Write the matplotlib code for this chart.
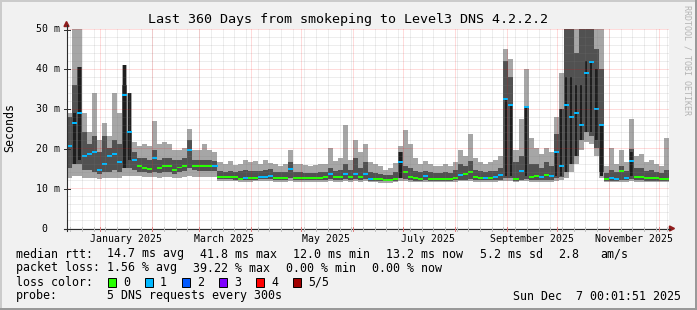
import datetime as dt
import numpy as np
import matplotlib
matplotlib.use("Agg")
import matplotlib.pyplot as plt
from matplotlib.lines import Line2D
from matplotlib.patches import Rectangle, Polygon

# --- data: 3-day steps over the last 360 days (ms) ---
start = dt.datetime(2024, 12, 12, 0, 1, 51)
end = dt.datetime(2025, 12, 7, 0, 1, 51)
step_days = 3

smoke_hi = [29, 50, 50, 29, 24, 34, 22, 26.5, 23, 34,
            29, 41, 34, 21.5, 20.5, 21, 20.5, 27, 21, 21.5,
            21, 19.5, 19.5, 20, 25, 19.5, 19.5, 21, 19.5, 19,
            16.5, 16, 16.8, 15.8, 16.2, 17, 16.5, 16.8, 16, 17,
            16.4, 16, 15.6, 16, 19.5, 16.2, 16, 15.8, 15.6, 15.8,
            16, 16, 20, 16.8, 17.5, 26, 17, 22, 19, 21,
            16.5, 16, 15.5, 14.5, 15, 16.4, 20.5, 24.5, 21, 17.5,
            16, 16.8, 16, 15.6, 15.5, 16, 15.5, 16.5, 19.7, 18,
            23.5, 17.5, 16.5, 16, 16.5, 17, 18, 45, 42.5, 19.5,
            27.5, 40, 22.5, 20, 18.5, 20, 19, 28, 39, 50,
            50, 50, 50, 50, 50, 50, 50, 15.5, 20, 16,
            19.5, 16.5, 27.4, 18, 18.5, 16.5, 17, 16, 15.5, 22.7]
smoke_dhi = [28, 36, 40.5, 24, 21, 23, 19, 23, 20, 22,
             21, 36, 24, 19, 17.5, 17.5, 17, 19.5, 17, 17.5,
             17.5, 17, 17, 17.5, 22, 17, 17, 17, 17, 16.8,
             14.2, 14, 14.2, 14, 14.2, 14.5, 14.2, 14.2, 14.2, 14.5,
             14.7, 14, 14, 14, 16.6, 14, 14, 13.9, 13.9, 13.9,
             14, 14, 15, 14.3, 14.5, 16, 14.5, 17.5, 15, 16.5,
             14, 13.8, 13.6, 13.3, 13.4, 14, 19, 15.5, 15, 14.2,
             14, 14.3, 14, 13.8, 13.8, 14, 13.8, 14.5, 16, 15.5,
             16.8, 14.5, 14.2, 14, 14.2, 14.3, 15, 42, 38, 16.5,
             18, 30.5, 16, 16, 15, 16.5, 15.5, 23.5, 30, 50,
             50, 44, 50, 50, 50, 45, 40, 13.8, 14.5, 14,
             15.5, 14.2, 19.8, 15, 15, 14.2, 14.5, 14, 13.8, 14.5]
median = [20.5, 26.5, 29, 18, 18.5, 19, 14.5, 16, 18, 18.5,
          16.5, 33.5, 24, 17, 15.5, 15, 14.8, 17.5, 15, 15.5,
          15.5, 14.6, 15.2, 15.6, 19.5, 15.7, 15.5, 15.5, 15.5, 15.5,
          12.8, 12.7, 12.8, 12.7, 12.4, 12.5, 12.5, 12.6, 12.8, 12.8,
          13, 12.5, 12.5, 12.6, 14.7, 12.6, 12.6, 12.6, 12.6, 12.6,
          12.6, 12.7, 13.5, 12.7, 12.8, 13.5, 12.7, 13.5, 12.7, 13.5,
          12.4, 12.3, 12.2, 12.1, 12.1, 12.3, 16.5, 14, 12.8, 12.5,
          12.4, 13, 12.3, 12.3, 12.3, 12.4, 12.3, 12.6, 13.3, 13.5,
          14, 12.7, 12.5, 12.5, 12.6, 12.7, 13.3, 32.5, 31, 12.3,
          14.3, 30.5, 12.7, 13, 12.8, 13.2, 13, 19, 15.5, 31,
          28, 29, 26, 39, 41.7, 30, 26, 12.3, 12.5, 12.3,
          14.3, 12.6, 16.8, 12.8, 12.7, 12.6, 12.5, 12.5, 12.4, 12.3]
smoke_dlo = [15, 16, 16, 14.5, 14.5, 14, 13.5, 14, 14, 14.5,
             14, 15, 15, 14.5, 14, 14, 13.8, 14, 13.8, 14,
             14, 13.6, 14, 14.2, 15, 14.5, 14.3, 14.3, 14.3, 14.3,
             12.2, 12.2, 12.2, 12.1, 12, 12, 12, 12.1, 12.2, 12.2,
             12.2, 12, 12, 12, 12.5, 12, 12, 12, 12, 12,
             12, 12, 12.2, 12, 12, 12.2, 12, 12.2, 12, 12.2,
             11.9, 11.9, 11.8, 11.8, 11.8, 11.9, 12.5, 12.2, 12, 11.9,
             11.9, 12, 11.9, 11.9, 11.9, 11.9, 11.9, 12, 12.1, 12.1,
             12.2, 12, 12, 12, 12, 12, 12.1, 12.5, 12.5, 11.9,
             12.1, 12.3, 12, 12, 12, 12, 12, 12.5, 12.8, 14,
             16, 18, 22, 24, 23, 20, 14, 11.9, 11.9, 11.9,
             12, 12, 12.3, 12, 12, 11.9, 11.9, 11.9, 11.9, 11.9]
smoke_lo = [12.5, 13, 13, 12.5, 12.5, 12.5, 12.2, 12.5, 12.5, 12.5,
            12.5, 13, 13, 13, 13, 12.8, 12.7, 12.7, 12.6, 12.7,
            12.7, 12.5, 12.5, 12.7, 13, 12.8, 12.8, 12.8, 12.8, 12.8,
            11.7, 11.7, 11.7, 11.7, 11.6, 11.6, 11.6, 11.7, 11.7, 11.7,
            11.7, 11.6, 11.6, 11.6, 11.8, 11.6, 11.6, 11.6, 11.6, 11.6,
            11.6, 11.6, 11.7, 11.6, 11.6, 11.7, 11.6, 11.7, 11.6, 11.7,
            11.5, 11.5, 11.4, 11.4, 11.4, 11.5, 11.8, 11.7, 11.6, 11.5,
            11.5, 11.6, 11.5, 11.5, 11.5, 11.5, 11.5, 11.6, 11.7, 11.7,
            11.7, 11.6, 11.6, 11.6, 11.6, 11.6, 11.7, 11.8, 11.8, 11.5,
            11.7, 11.8, 11.6, 11.6, 11.6, 11.6, 11.6, 11.8, 12, 12.5,
            14, 16, 19.5, 21.5, 21, 18, 12.5, 11.5, 11.5, 11.5,
            11.6, 11.6, 11.7, 11.6, 11.6, 11.5, 11.5, 11.5, 11.5, 11.5]
loss = [1, 1, 1, 1, 1, 1, 1, 1, 1, 1,
        1, 1, 1, 1, 0, 0, 0, 1, 0, 0,
        0, 0, 0, 0, 1, 0, 0, 0, 0, 1,
        0, 0, 0, 0, 0, 1, 0, 0, 1, 1,
        1, 0, 0, 0, 1, 0, 0, 0, 0, 0,
        0, 0, 1, 0, 0, 1, 0, 1, 0, 1,
        1, 0, 0, 0, 0, 0, 1, 0, 0, 0,
        0, 1, 0, 0, 0, 0, 0, 0, 1, 0,
        0, 0, 0, 1, 0, 1, 1, 1, 1, 0,
        1, 1, 0, 0, 1, 0, 1, 1, 1, 1,
        1, 1, 1, 1, 1, 1, 1, 0, 1, 1,
        0, 1, 1, 0, 0, 0, 0, 0, 0, 0]
# darkest inner smoke: (step index, low, high)
core_spikes = [(1, 16, 29), (2, 17, 40.5), (11, 15, 41), (12, 17, 34),
               (66, 12.5, 19), (87, 13, 32.5), (88, 13, 31), (91, 13, 30.5),
               (97, 13, 19), (98, 13, 30), (99, 14, 38), (100, 16, 38),
               (101, 18, 36), (102, 22, 36), (103, 24, 42), (104, 24, 42),
               (105, 22, 40), (106, 13, 26), (112, 13, 19)]

loss_colors = ["#26ff00", "#00b8ff", "#0059ff", "#7e00ff", "#ff0000", "#a10000"]
loss_names = ["0", "1", "2", "3", "4", "5/5"]

W, H = 697, 310
MONO = "DejaVu Sans Mono"
Y0, Y50 = 228, 29          # pixel rows of 0 ms and 50 ms
PPM = (Y0 - Y50) / 50.0


def fx(px):
    return px / W


def fy(py):
    return 1 - py / H


def days(d):
    return (d - start).total_seconds() / 86400.0


fig = plt.figure(figsize=(W / 100, H / 100), dpi=100, facecolor="#f1f1f1")
ax = fig.add_axes([fx(67), fy(Y0), (669 - 67) / W, (Y0 - Y50) / H])
ax.set_facecolor("white")
ax.set_xlim(0, days(end))
ax.set_ylim(0, 50)
for s in ax.spines.values():
    s.set_visible(False)
ax.set_xticks([])
ax.set_yticks([])

n = len(median)
edges = np.arange(n + 1) * step_days
ext = lambda a: np.append(a, a[-1])
ax.fill_between(edges, ext(smoke_lo), ext(smoke_hi), step="post",
                color="#a6a6a6", lw=0, zorder=2)
ax.fill_between(edges, ext(smoke_dlo), ext(smoke_dhi), step="post",
                color="#515151", lw=0, zorder=3)
for idx, lo, hi in core_spikes:
    ax.bar(idx * step_days + 0.75, hi - lo, width=1.5, bottom=lo, align="edge",
           color="#1e1e1e", lw=0, zorder=4)
ax.bar(np.arange(n) * step_days, [0.5] * n, width=step_days,
       bottom=np.array(median) - 0.25, align="edge",
       color=[loss_colors[k] for k in loss], lw=0, zorder=5)

# grid (dotted, drawn over the smoke like rrdtool)
minor_c = (0.5, 0.5, 0.5, 0.28)
major_c = (1.0, 0.0, 0.0, 0.28)
dots = (0, (1, 1))
for v in range(2, 51, 2):
    ax.axhline(v, color=major_c if v % 10 == 0 else minor_c, lw=0.72,
               ls=dots, zorder=6, snap=True)
month_starts = [dt.datetime(2025, m, 1) for m in range(1, 13)]
week = dt.datetime(2024, 12, 14)
weeks = []
while week < end:
    weeks.append(week)
    week += dt.timedelta(days=7)
for w in weeks:
    ax.axvline(days(w), color=minor_c, lw=0.72, ls=dots, zorder=6, snap=True)
for m in month_starts:
    ax.axvline(days(m), color=major_c, lw=0.72, ls=dots, zorder=6, snap=True)

# axis lines, ticks, arrows
px_per_day = (669 - 67) / days(end)
axis_c = "#2c2c2c"
fig.add_artist(Line2D([fx(64), fx(670)], [fy(Y0 + 0.5), fy(Y0 + 0.5)], color=axis_c, lw=0.8))
fig.add_artist(Line2D([fx(66.5), fx(66.5)], [fy(231), fy(25)], color=axis_c, lw=0.8))
for w in weeks:
    x = 67 + days(w) * px_per_day
    fig.add_artist(Line2D([fx(x), fx(x)], [fy(227), fy(230.5)], color="#c0c0c0", lw=0.7))
for m in month_starts:
    x = 67 + days(m) * px_per_day
    fig.add_artist(Line2D([fx(x), fx(x)], [fy(226.5), fy(231)], color="#e08080", lw=0.7))
for v in range(0, 51, 10):
    y = Y0 - v * PPM + 0.5
    fig.add_artist(Line2D([fx(64), fx(69.5)], [fy(y), fy(y)], color=axis_c, lw=0.7))
arrow_c = "#901c1c"
fig.add_artist(Polygon([[fx(66.5), fy(21.5)], [fx(64), fy(26.5)], [fx(69), fy(26.5)]],
                       closed=True, color=arrow_c, transform=fig.transFigure))
fig.add_artist(Polygon([[fx(674.5), fy(Y0 + 0.5)], [fx(669.5), fy(Y0 - 2)], [fx(669.5), fy(Y0 + 3)]],
                       closed=True, color=arrow_c, transform=fig.transFigure))

# y labels
for v in range(0, 51, 10):
    y = Y0 - v * PPM + 0.5
    lab = "0" if v == 0 else f"{v} m"
    fig.text(fx(47.5 if v == 0 else 59.5), fy(y), lab, ha="right", va="center",
             family=MONO, fontsize=7.1)
# x labels, centred 15 days after the month start
for m in month_starts[::2]:
    x = 67 + (days(m) + 15) * px_per_day
    fig.text(fx(x), fy(241.5), m.strftime("%B %Y"), ha="center", va="baseline",
             family=MONO, fontsize=7.1)

fig.text(fx(348), fy(23.5), "Last 360 Days from smokeping to Level3 DNS 4.2.2.2",
         ha="center", va="baseline", family=MONO, fontsize=9.6)
fig.text(fx(10), fy(127), "Seconds", rotation=90, ha="center", va="center",
         family=MONO, fontsize=8.4)
fig.text(fx(687), fy(5), "RRDTOOL / TOBI OETIKER", rotation=270, ha="center",
         va="top", family=MONO, fontsize=6, color="#b4b4b4")

# legend
rows = [
    (257.5, [(16, "median rtt:"), (107, "14.7 ms avg"), (200, "41.8 ms max"),
             (293, "12.0 ms min"), (386, "13.2 ms now"), (480, "5.2 ms sd"),
             (558, "2.8"), (600, "am/s")]),
    (271.5, [(16, "packet loss:"), (107, "1.56 % avg"), (193, "39.22 % max"),
             (286, "0.00 % min"), (372, "0.00 % now")]),
    (285.5, [(16, "loss color:")]),
    (299.5, [(16, "probe:"), (107, "5 DNS requests every 300s"),
             (513, "Sun Dec  7 00:01:51 2025")]),
]
for y, items in rows:
    for x, t in items:
        fig.text(fx(x), fy(y), t, ha="left", va="baseline", family=MONO, fontsize=8.4)
for k, (c, name) in enumerate(zip(loss_colors, loss_names)):
    bx = 108 + 37 * k
    fig.add_artist(Rectangle((fx(bx), fy(286.5)), 8 / W, 8.5 / H, facecolor=c,
                             edgecolor="black", lw=0.7, transform=fig.transFigure))
    fig.text(fx(bx + 15), fy(285.5), name, ha="left", va="baseline", family=MONO, fontsize=8.4)

# frame
fig.add_artist(Rectangle((0, fy(2)), 1, 2 / H, color="#cbcbcb", lw=0, transform=fig.transFigure))
fig.add_artist(Rectangle((0, 0), 2 / W, 1, color="#cbcbcb", lw=0, transform=fig.transFigure))
fig.add_artist(Rectangle((0, 0), 1, 2.5 / H, color="#999999", lw=0, transform=fig.transFigure))
fig.add_artist(Rectangle((fx(694.5), 0), 2.5 / W, 1, color="#999999", lw=0, transform=fig.transFigure))

fig.savefig("out.png", dpi=100, facecolor=fig.get_facecolor())
